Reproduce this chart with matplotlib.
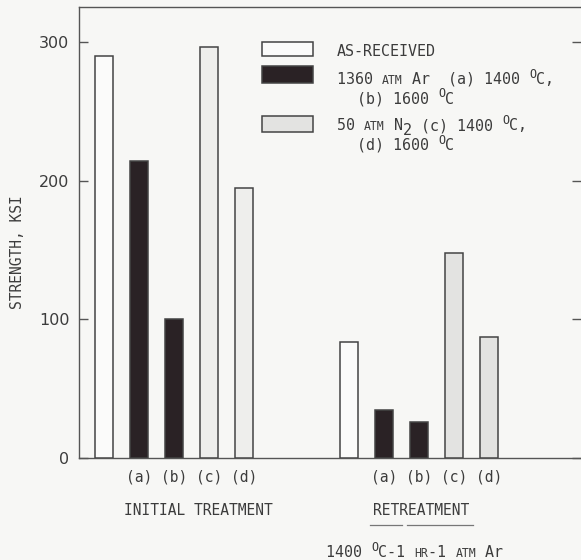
import matplotlib
matplotlib.use("Agg")
import matplotlib.pyplot as plt
from matplotlib.patches import Rectangle
from matplotlib import transforms

# ---------------- data ----------------
groups = ["INITIAL TREATMENT", "RETREATMENT"]
conditions = ["AS-RECEIVED", "(a)", "(b)", "(c)", "(d)"]
initial_strength = [290, 214, 100, 296, 195]
retreat_strength = [84, 34.5, 26, 148, 87]
y_ticks = [0, 100, 200, 300]

# ---------------- style ----------------
BG = "#f7f7f5"
INK = "#3c3c3c"
LINE = "#555555"
WHITE = "#fbfbfa"
DARK = "#2a2225"
STIP_LIGHT = "#eeeeec"
STIP = "#e3e3e1"
MONO = ["DejaVu Sans Mono", "DejaVu Sans"]

W, H, DPI = 581, 560, 100
fig = plt.figure(figsize=(W / DPI, H / DPI), dpi=DPI, facecolor=BG)

ax_l, ax_r, ax_t, ax_b = 79, 581, 7, 458
ax = fig.add_axes([ax_l / W, (H - ax_b) / H, (ax_r - ax_l) / W, (ax_b - ax_t) / H])
ax.set_facecolor(BG)

init_x = [0, 1, 2, 3, 4]
ret_x = [7, 8, 9, 10, 11]
width = 0.51
init_colors = [WHITE, DARK, DARK, STIP_LIGHT, STIP_LIGHT]
ret_colors = [WHITE, DARK, DARK, STIP, STIP]

ax.bar(init_x, initial_strength, width=width, color=init_colors,
       edgecolor="#444444", linewidth=1.1, zorder=3)
ax.bar(ret_x, retreat_strength, width=width, color=ret_colors,
       edgecolor="#444444", linewidth=1.1, zorder=3)

ax.set_xlim(-0.714, 13.63)
ax.set_ylim(0, 325.2)

for s in ["left", "top", "bottom"]:
    ax.spines[s].set_color(LINE)
    ax.spines[s].set_linewidth(1.0)
ax.spines["right"].set_visible(False)

ax.set_xticks([])
ax.set_yticks(y_ticks)
ax.set_yticklabels([str(v) for v in y_ticks])
ax.tick_params(axis="y", direction="in", length=6.5, width=1.0, color=LINE,
               pad=7, labelsize=11.5, labelcolor=INK, right=True)
for lab in ax.get_yticklabels():
    lab.set_family("DejaVu Sans")

# y label
fig.text(18 / W, 1 - 252 / H, "STRENGTH, KSI", rotation=90, ha="center",
         va="center", fontsize=10.5, color=INK, family=MONO)

# condition labels under bars
xfig = transforms.blended_transform_factory(ax.transData, fig.transFigure)
for xs in (init_x, ret_x):
    for xv, lab in zip(xs[1:], conditions[1:]):
        ax.text(xv, 1 - 482 / H, lab, transform=xfig, ha="center",
                va="baseline", fontsize=10.5, color=INK, family=MONO)

# group labels
fig.text(198 / W, 1 - 515 / H, groups[0], ha="center", va="baseline",
         fontsize=10.5, color=INK, family=MONO)
fig.text(421 / W, 1 - 515 / H, groups[1], ha="center", va="baseline",
         fontsize=10.5, color=INK, family=MONO)
# dashed underline
for x0, x1 in [(370, 402), (407, 473)]:
    fig.add_artist(plt.Line2D([x0 / W, x1 / W], [1 - 525 / H, 1 - 525 / H],
                              color="#777777", linewidth=0.9))


def rich(x_px, y_px, pieces):
    """pieces: (text, fontsize, raise_px) in monospace, placed sequentially."""
    x = x_px
    for txt, size, dy in pieces:
        fig.text(x / W, 1 - (y_px - dy) / H, txt, ha="left", va="baseline",
                 fontsize=size, color=INK, family=MONO)
        x += len(txt) * 0.602 * size * DPI / 72


BIG, SC, SUP = 10.8, 8.3, 8.5
rich(326, 557, [("1400 ", BIG, 0), ("O", SUP, 6), ("C-1 ", BIG, 0),
                ("HR", SC, 0), ("-1 ", BIG, 0), ("ATM", SC, 0), (" Ar", BIG, 0)])

# ---------------- legend ----------------
def px_box(x0, y0, x1, y1, color):
    fig.add_artist(Rectangle((x0 / W, 1 - y1 / H), (x1 - x0) / W, (y1 - y0) / H,
                             transform=fig.transFigure, facecolor=color,
                             edgecolor="#444444", linewidth=1.1))

px_box(262, 42, 313, 56, WHITE)
px_box(262, 66, 313, 83, DARK)
px_box(262, 116, 313, 132, STIP)

rich(337, 56, [(conditions[0], BIG, 0)])
rich(337, 84, [("1360 ", BIG, 0), ("ATM", SC, 0), (" Ar  (a) 1400 ", BIG, 0),
               ("O", SUP, 6), ("C,", BIG, 0)])
rich(357, 103.5, [("(b) 1600 ", BIG, 0), ("O", SUP, 6), ("C", BIG, 0)])
rich(337, 130, [("50 ", BIG, 0), ("ATM", SC, 0), (" N", BIG, 0), ("2", BIG, -5),
                (" (c) 1400 ", BIG, 0), ("O", SUP, 6), ("C,", BIG, 0)])
rich(357, 150, [("(d) 1600 ", BIG, 0), ("O", SUP, 6), ("C", BIG, 0)])

fig.savefig("out.png", dpi=DPI, facecolor=BG)
